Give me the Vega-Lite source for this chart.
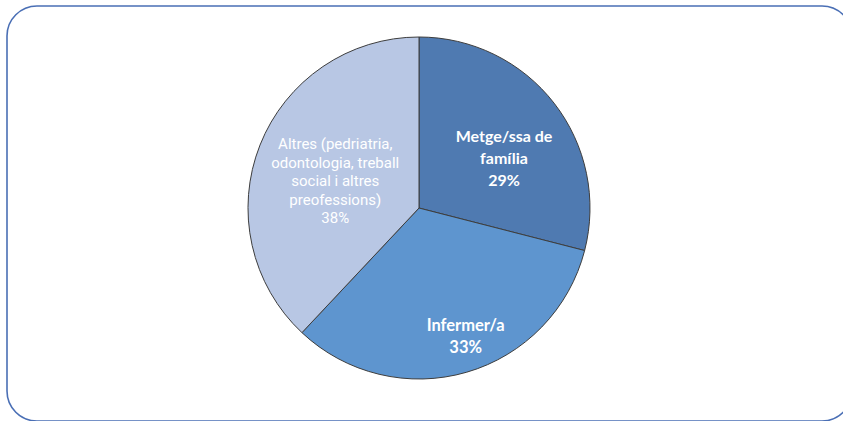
{
  "$schema": "https://vega.github.io/schema/vega-lite/v6.json",
  "width": 845,
  "height": 415,
  "autosize": {"type": "none"},
  "padding": {"left": 7, "top": 6, "right": 0, "bottom": 0},
  "background": "#ffffff",
  "view": {"stroke": "#4a6fb5", "strokeWidth": 1.6, "cornerRadius": 30, "fill": "#ffffff"},
  "data": {
    "values": [
      {"o": 1, "cat": "Metge/ssa de família", "value": 29, "label": "Metge/ssa de\nfamília\n29%"},
      {"o": 2, "cat": "Infermer/a", "value": 33, "label": "Infermer/a\n33%"},
      {"o": 3, "cat": "Altres", "value": 38, "label": "Altres (pedriatria,\nodontologia, treball\nsocial i altres\npreofessions)\n38%"}
    ]
  },
  "encoding": {
    "theta": {"field": "value", "type": "quantitative", "stack": true},
    "order": {"field": "o", "type": "quantitative"}
  },
  "layer": [
    {
      "mark": {"type": "arc", "outerRadius": 171, "stroke": "#3d3d3d", "strokeWidth": 1, "x": {"expr": "width/2 - 10.5"}, "y": {"expr": "height/2 - 5.5"}},
      "encoding": {
        "color": {
          "field": "cat", "type": "nominal", "legend": null,
          "scale": {"domain": ["Metge/ssa de família", "Infermer/a", "Altres"], "range": ["#4f7ab1", "#5e95cf", "#b8c7e4"]}
        }
      }
    },
    {
      "mark": {"type": "text", "radius": 100, "dx": 6, "dy": -10, "lineBreak": "\n", "lineHeight": 22, "align": "center", "baseline": "middle", "font": "Lato", "fontWeight": "bold", "fontSize": 16, "fill": "#ffffff", "x": {"expr": "width/2 - 10.5"}, "y": {"expr": "height/2 - 5.5"}},
      "encoding": {"text": {"condition": {"test": "datum.o === 1", "field": "label"}, "value": ""}}
    },
    {
      "mark": {"type": "text", "radius": 135, "dx": 9, "dy": -12, "lineBreak": "\n", "lineHeight": 22, "align": "center", "baseline": "middle", "font": "Lato", "fontWeight": "bold", "fontSize": 16.5, "fill": "#ffffff", "x": {"expr": "width/2 - 10.5"}, "y": {"expr": "height/2 - 5.5"}},
      "encoding": {"text": {"condition": {"test": "datum.o === 2", "field": "label"}, "value": ""}}
    },
    {
      "mark": {"type": "text", "radius": 89, "dx": -1, "dy": -31, "lineBreak": "\n", "lineHeight": 18.5, "align": "center", "baseline": "middle", "font": "Roboto", "fontSize": 15, "fill": "#ffffff", "x": {"expr": "width/2 - 10.5"}, "y": {"expr": "height/2 - 5.5"}},
      "encoding": {"text": {"condition": {"test": "datum.o === 3", "field": "label"}, "value": ""}}
    }
  ]
}
